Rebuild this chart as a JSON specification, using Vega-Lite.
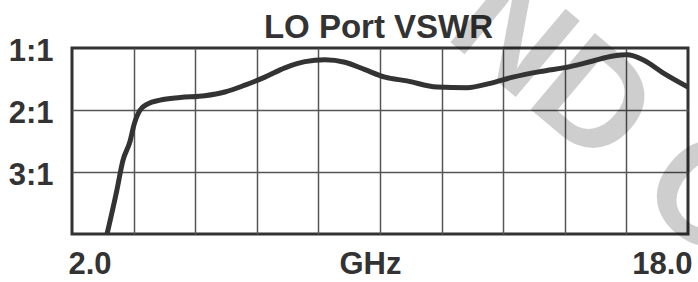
{
  "$schema": "https://vega.github.io/schema/vega-lite/v6.json",
  "autosize": {"type": "none"},
  "padding": {"left": 72, "top": 48, "right": 10, "bottom": 48},
  "width": 616,
  "height": 186,
  "background": "white",
  "view": {"stroke": "#333333", "strokeWidth": 3},
  "datasets": {
    "curve": [
      {"f": 2.91, "v": 4.0},
      {"f": 3.16, "v": 3.31},
      {"f": 3.32, "v": 2.82},
      {"f": 3.51, "v": 2.5},
      {"f": 3.61, "v": 2.24},
      {"f": 3.77, "v": 2.0},
      {"f": 3.97, "v": 1.9},
      {"f": 4.29, "v": 1.84},
      {"f": 4.81, "v": 1.8},
      {"f": 5.45, "v": 1.77},
      {"f": 5.97, "v": 1.71},
      {"f": 6.49, "v": 1.6},
      {"f": 7.01, "v": 1.47},
      {"f": 7.53, "v": 1.32},
      {"f": 8.05, "v": 1.22},
      {"f": 8.57, "v": 1.19},
      {"f": 9.09, "v": 1.23},
      {"f": 9.61, "v": 1.35},
      {"f": 10.13, "v": 1.47},
      {"f": 10.7, "v": 1.53},
      {"f": 11.48, "v": 1.63},
      {"f": 12.26, "v": 1.64},
      {"f": 12.86, "v": 1.57},
      {"f": 13.45, "v": 1.47},
      {"f": 14.16, "v": 1.38},
      {"f": 14.94, "v": 1.3},
      {"f": 15.53, "v": 1.21},
      {"f": 16.05, "v": 1.13},
      {"f": 16.42, "v": 1.11},
      {"f": 16.83, "v": 1.19},
      {"f": 17.35, "v": 1.4},
      {"f": 18.0, "v": 1.63}
    ],
    "mark": [
      {"f": 15.9, "v": 2.1, "t": "ND C"}
    ]
  },
  "resolve": {"axis": {"x": "independent", "y": "independent"}},
  "layer": [
    {
      "data": {"name": "mark"},
      "mark": {"type": "text", "font": "Liberation Sans", "fontSize": 145, "fontWeight": "bold", "angle": 40, "align": "center", "baseline": "middle", "color": "#000000", "opacity": 0.19},
      "encoding": {
        "x": {
          "field": "f",
          "type": "quantitative",
          "axis": {
            "orient": "top",
            "labels": false,
            "ticks": false,
            "domain": false,
            "grid": false,
            "title": "LO Port VSWR",
            "titleFont": "Liberation Sans",
            "titleFontSize": 33,
            "titleFontWeight": "bold",
            "titleColor": "#333333",
            "titleX": 306,
            "titleY": -11,
            "titleBaseline": "alphabetic",
            "titleAlign": "center",
            "titleAnchor": "middle"
          }
        },
        "y": {"field": "v", "type": "quantitative", "axis": null},
        "text": {"field": "t"}
      }
    },
    {
      "data": {"name": "curve"},
      "mark": {"type": "line", "color": "#333333", "strokeWidth": 5, "interpolate": "monotone", "strokeCap": "round", "clip": true},
      "encoding": {
        "x": {
          "field": "f",
          "type": "quantitative",
          "scale": {"domain": [2, 18], "nice": false, "zero": false},
          "axis": {
            "orient": "bottom",
            "values": [2, 3.6, 5.2, 6.8, 8.4, 10, 11.6, 13.2, 14.8, 16.4, 18],
            "labelExpr": "datum.value == 2 ? '2.0' : (datum.value == 18 ? '18.0' : '')",
            "labelFlush": true,
            "labelFlushOffset": 4,
            "labelOverlap": false,
            "labelBound": false,
            "labelFont": "Liberation Sans",
            "labelFontSize": 31,
            "labelFontWeight": "bold",
            "labelColor": "#333333",
            "labelPadding": 15,
            "ticks": false,
            "domain": false,
            "grid": true,
            "gridColor": "#555555",
            "gridWidth": 1.5,
            "gridOpacity": {"condition": {"test": "datum.value == 2 || datum.value == 18", "value": 0}, "value": 1},
            "title": "GHz",
            "titleFont": "Liberation Sans",
            "titleFontSize": 31,
            "titleFontWeight": "bold",
            "titleColor": "#333333",
            "titleX": 298,
            "titleY": 15,
            "titleBaseline": "top",
            "titleAlign": "center"
          }
        },
        "y": {
          "field": "v",
          "type": "quantitative",
          "scale": {"domain": [1, 4], "reverse": true, "nice": false, "zero": false},
          "axis": {
            "orient": "left",
            "values": [1, 2, 3, 4],
            "labelExpr": "datum.value < 4 ? datum.value + ':1' : ''",
            "labelOverlap": false,
            "labelBound": false,
            "labelFont": "Liberation Sans",
            "labelFontSize": 31,
            "labelFontWeight": "bold",
            "labelColor": "#333333",
            "labelPadding": 19,
            "labelOffset": 3,
            "ticks": false,
            "domain": false,
            "grid": true,
            "gridColor": "#555555",
            "gridWidth": 1.5,
            "gridOpacity": {"condition": {"test": "datum.value == 1 || datum.value == 4", "value": 0}, "value": 1},
            "title": null
          }
        }
      }
    }
  ]
}
